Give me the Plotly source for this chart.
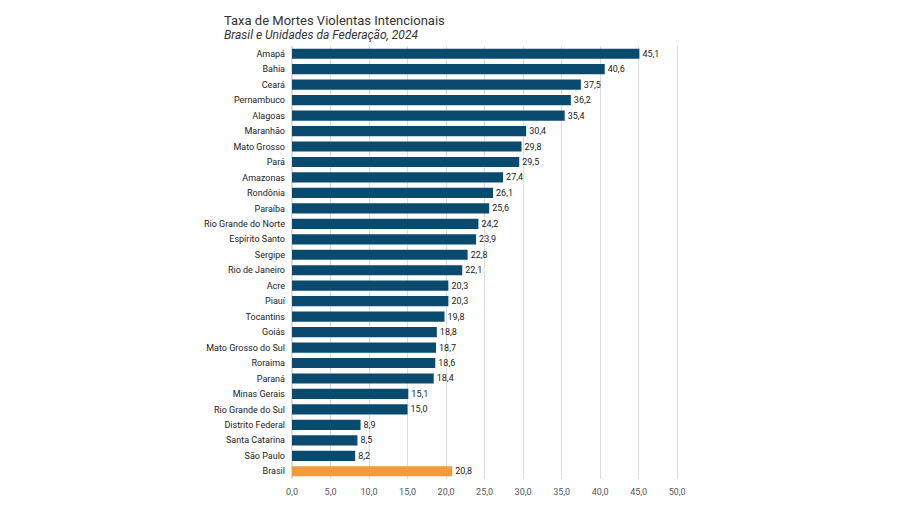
import plotly.graph_objects as go

states = [
    "Amapá", "Bahia", "Ceará", "Pernambuco", "Alagoas", "Maranhão", "Mato Grosso",
    "Pará", "Amazonas", "Rondônia", "Paraíba", "Rio Grande do Norte", "Espírito Santo",
    "Sergipe", "Rio de Janeiro", "Acre", "Piauí", "Tocantins", "Goiás",
    "Mato Grosso do Sul", "Roraima", "Paraná", "Minas Gerais", "Rio Grande do Sul",
    "Distrito Federal", "Santa Catarina", "São Paulo", "Brasil",
]
rates = [
    45.1, 40.6, 37.5, 36.2, 35.4, 30.4, 29.8, 29.5, 27.4, 26.1, 25.6, 24.2, 23.9,
    22.8, 22.1, 20.3, 20.3, 19.8, 18.8, 18.7, 18.6, 18.4, 15.1, 15.0, 8.9, 8.5, 8.2,
    20.8,
]
tick_vals = [0, 5, 10, 15, 20, 25, 30, 35, 40, 45, 50]

BLUE = "#0B4A6F"
ORANGE = "#F39A3D"
colors = [ORANGE if s == "Brasil" else BLUE for s in states]


def fmt(v):
    return f"{v:.1f}".replace(".", ",")


fig = go.Figure()
fig.add_trace(go.Bar(
    x=rates, y=states, orientation="h",
    marker=dict(color=colors, line_width=0),
    width=0.66,
    text=[fmt(v) for v in rates], textposition="outside",
    textfont=dict(size=9, color="#222222"),
    cliponaxis=False,
))

fig.update_layout(
    width=906, height=509,
    margin=dict(l=284, r=233, t=38, b=38),
    paper_bgcolor="white", plot_bgcolor="white",
    font=dict(family="Roboto, Arial, sans-serif", size=9, color="#333333"),
    showlegend=False,
    bargap=0.3,
)
fig.update_xaxes(
    range=[0, 50.5], tickvals=tick_vals, ticktext=[fmt(v) for v in tick_vals],
    showgrid=True, gridcolor="#DDDDDD", gridwidth=1, zeroline=True,
    zerolinecolor="#DDDDDD", tickfont=dict(size=9, color="#555555"),
    ticklabelstandoff=6,
)
fig.update_yaxes(
    autorange="reversed", ticks="", ticklabelstandoff=6,
    tickfont=dict(size=9, color="#222222"),
)

fig.add_annotation(
    text="Taxa de Mortes Violentas Intencionais", xref="paper", yref="paper",
    x=0, y=1, xanchor="left", yanchor="bottom", xshift=-70, yshift=16, showarrow=False,
    font=dict(size=13, color="#333333"),
)
fig.add_annotation(
    text="<i>Brasil e Unidades da Federação, 2024</i>", xref="paper", yref="paper",
    x=0, y=1, xanchor="left", yanchor="bottom", xshift=-70, yshift=2, showarrow=False,
    font=dict(size=12, color="#333333"),
)

fig.write_html("out.html")
